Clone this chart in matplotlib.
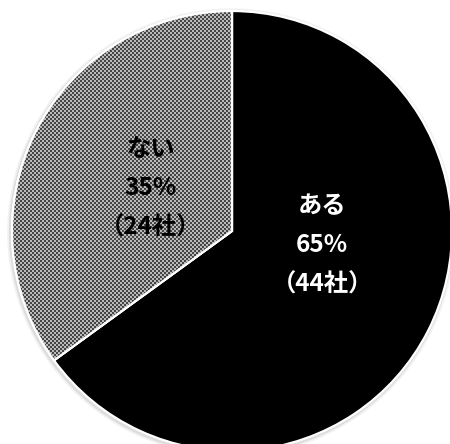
import matplotlib

matplotlib.use("Agg")
import matplotlib.pyplot as plt
import numpy as np

plt.rcParams['font.family'] = ['Noto Sans CJK JP', 'DejaVu Sans']

# 回答の内訳
labels = ["ある", "ない"]
shares = [65, 35]
companies = [44, 24]
text_colors = ["white", "black"]

fig = plt.figure(figsize=(4.5, 4.44), dpi=100)
ax = fig.add_axes([0, 0, 1, 1])

# soft shadow behind the pie
for r, a in [(1.018, 0.10), (1.010, 0.18)]:
    ax.add_patch(plt.Circle((-0.004, -0.006), r, color="gray", alpha=a, lw=0, zorder=0))

wedges, _ = ax.pie(shares, startangle=90, counterclock=False,
                   colors=["black", "#808080"],
                   wedgeprops=dict(edgecolor="white", linewidth=1.6))
for w in wedges:
    w.set_zorder(2)

# fine checker fill for the second slice
h, w_px = 444, 450
yy, xx = np.mgrid[0:h, 0:w_px]
checker = ((xx // 2 + yy // 2) % 2).astype(float)
img = ax.imshow(checker, cmap="gray", vmin=-0.6, vmax=1.6,
                extent=(-1.0545, 0.991, -0.968, 1.05),
                interpolation="nearest", zorder=2.5)
img.set_clip_path(wedges[1])
# redraw the white edge on top of the checker
edge = plt.matplotlib.patches.Wedge(wedges[1].center, wedges[1].r,
                                    wedges[1].theta1, wedges[1].theta2,
                                    facecolor="none", edgecolor="white",
                                    linewidth=1.6, zorder=3)
ax.add_patch(edge)

label_pos = [(0.41, -0.065), (-0.37, 0.195)]
for lab, pct, n, c, (x, y) in zip(labels, shares, companies, text_colors, label_pos):
    ax.text(x, y, f"{lab}\n{pct}%\n（{n}社）", ha="center", va="center",
            color=c, fontsize=17.5, fontweight="bold", linespacing=1.8, zorder=4)

ax.set_xlim(-1.0545, 0.991)
ax.set_ylim(-0.968, 1.05)
ax.set_aspect("equal")
ax.axis("off")

fig.savefig("out.png", dpi=100)
